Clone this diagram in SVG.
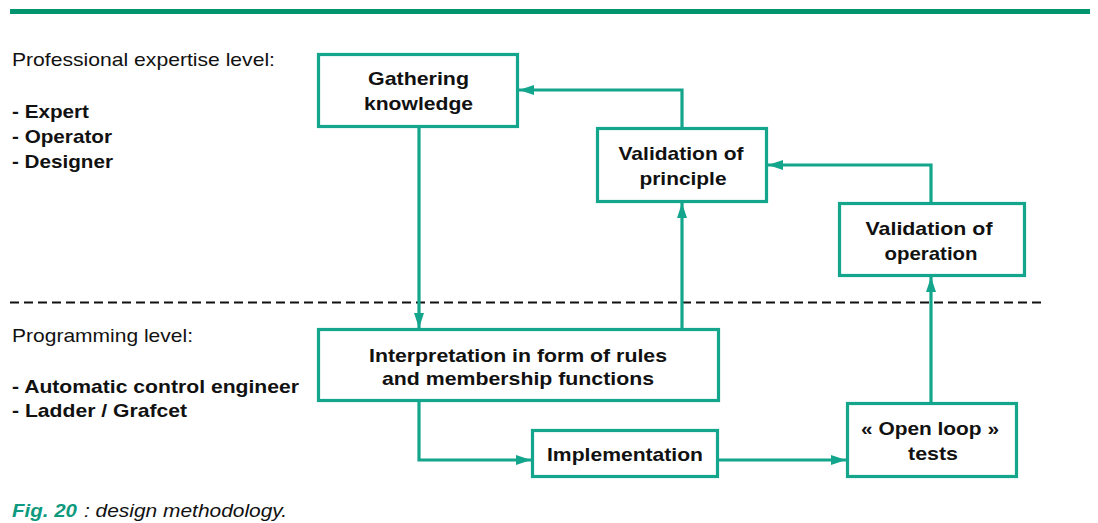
<svg xmlns="http://www.w3.org/2000/svg" width="1098" height="523" viewBox="0 0 1098 523">
<style>
.box{fill:#fff;stroke:#13a68c;stroke-width:3.2}
.con{fill:none;stroke:#13a68c;stroke-width:3.2;marker-end:url(#ah)}
.lbl{font-family:"Liberation Sans",Arial,sans-serif;font-size:19px;font-weight:bold;fill:#111;text-anchor:middle}
.side{font-family:"Liberation Sans",Arial,sans-serif;font-size:19px;fill:#111}
.sideb{font-family:"Liberation Sans",Arial,sans-serif;font-size:19px;font-weight:bold;fill:#111}
.cap{font-family:"Liberation Sans",Arial,sans-serif;font-size:19px;font-style:italic;fill:#111}
</style>
<defs>
<marker id="ah" viewBox="0 0 15 10" refX="15" refY="5" markerWidth="15" markerHeight="10" markerUnits="userSpaceOnUse" orient="auto">
<path d="M0,0 L15,5 L0,10 z" fill="#13a68c"/>
</marker>
</defs>
<rect x="10" y="9" width="1080" height="5" fill="#00946f"/>
<line x1="10" y1="302.5" x2="1043" y2="302.5" stroke="#111" stroke-width="2" stroke-dasharray="9 5"/>

<g id="side-labels">
<text class="side" x="12" y="66" textLength="263" lengthAdjust="spacingAndGlyphs">Professional expertise level:</text>
<text class="sideb" x="12" y="117.5" textLength="77" lengthAdjust="spacingAndGlyphs">- Expert</text>
<text class="sideb" x="12" y="142.5" textLength="100" lengthAdjust="spacingAndGlyphs">- Operator</text>
<text class="sideb" x="12" y="168" textLength="101" lengthAdjust="spacingAndGlyphs">- Designer</text>
<text class="side" x="12" y="342" textLength="181" lengthAdjust="spacingAndGlyphs">Programming level:</text>
<text class="sideb" x="12" y="392.5" textLength="287" lengthAdjust="spacingAndGlyphs">- Automatic control engineer</text>
<text class="sideb" x="12" y="417" textLength="175" lengthAdjust="spacingAndGlyphs">- Ladder / Grafcet</text>
</g>

<g id="connectors">
<path class="con" d="M419,128 V328"/>
<path class="con" d="M682,328 V203"/>
<path class="con" d="M682,128 V90 H519"/>
<path class="con" d="M931,202 V165 H768"/>
<path class="con" d="M931,402 V277"/>
<path class="con" d="M419,401 V460 H531"/>
<path class="con" d="M719,460 H846"/>
</g>

<g id="gathering">
<rect class="box" x="318.5" y="54.5" width="199" height="72"/>
<text class="lbl" x="418.5" y="85" textLength="101" lengthAdjust="spacingAndGlyphs">Gathering</text>
<text class="lbl" x="418.5" y="110" textLength="109" lengthAdjust="spacingAndGlyphs">knowledge</text>
</g>
<g id="val-principle">
<rect class="box" x="597.5" y="128.5" width="169" height="73"/>
<text class="lbl" x="681" y="159.5" textLength="125" lengthAdjust="spacingAndGlyphs">Validation of</text>
<text class="lbl" x="683" y="184.5" textLength="87" lengthAdjust="spacingAndGlyphs">principle</text>
</g>
<g id="val-operation">
<rect class="box" x="839.5" y="203.5" width="185" height="72"/>
<text class="lbl" x="929" y="235" textLength="127" lengthAdjust="spacingAndGlyphs">Validation of</text>
<text class="lbl" x="931" y="260" textLength="93" lengthAdjust="spacingAndGlyphs">operation</text>
</g>
<g id="interpretation">
<rect class="box" x="318.5" y="329.5" width="400" height="71"/>
<text class="lbl" x="518" y="361.5" textLength="298" lengthAdjust="spacingAndGlyphs">Interpretation in form of rules</text>
<text class="lbl" x="518" y="385" textLength="272" lengthAdjust="spacingAndGlyphs">and membership functions</text>
</g>
<g id="implementation">
<rect class="box" x="532.5" y="430.5" width="185" height="46"/>
<text class="lbl" x="625" y="461" textLength="156" lengthAdjust="spacingAndGlyphs">Implementation</text>
</g>
<g id="open-loop">
<rect class="box" x="847.5" y="403.5" width="169" height="73"/>
<text class="lbl" x="930" y="435" textLength="138" lengthAdjust="spacingAndGlyphs">« Open loop »</text>
<text class="lbl" x="933" y="460" textLength="50" lengthAdjust="spacingAndGlyphs">tests</text>
</g>

<g id="caption">
<text class="cap" x="12" y="516.5" textLength="65" lengthAdjust="spacingAndGlyphs" font-weight="bold" fill="#0e9a7e" style="fill:#0e9a7e">Fig. 20</text>
<text class="cap" x="84" y="516.5" textLength="203" lengthAdjust="spacingAndGlyphs">: design methodology.</text>
</g>
</svg>
